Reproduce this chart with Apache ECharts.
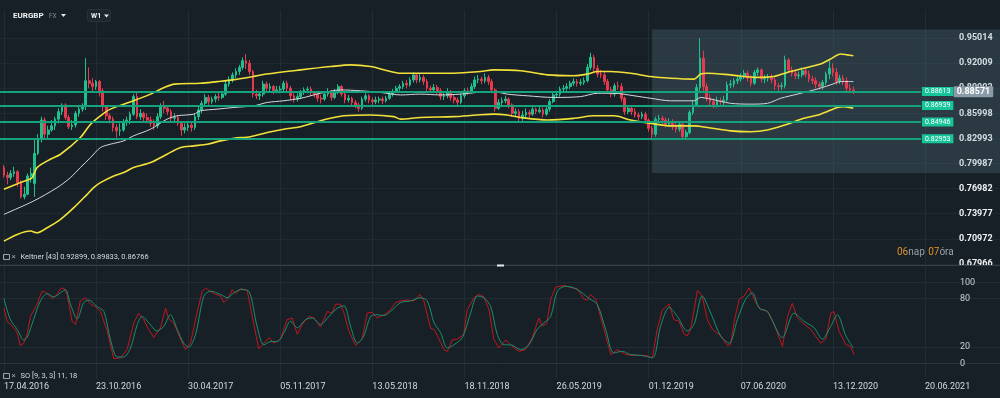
<!DOCTYPE html>
<html>
<head>
<meta charset="utf-8">
<title>EURGBP W1</title>
<script src="https://cdn.jsdelivr.net/npm/echarts@6.0.0/dist/echarts.min.js"></script>
<style>
html, body { margin: 0; padding: 0; background: #182027; }
#main { width: 1000px; height: 398px; }
</style>
</head>
<body>
<div id="main"></div>
<script>
// weekly candles, index = weeks since 17.04.2016 : [open, close, low, high]
var candles = [
	[0.7950,0.7860,0.7830,0.7980],[0.7860,0.7830,0.7750,0.7900],[0.7830,0.7880,0.7800,0.7920],[0.7880,0.7900,0.7840,0.7960],[0.7900,0.7770,0.7720,0.7920],
	[0.7770,0.7600,0.7580,0.7800],[0.7600,0.7630,0.7570,0.7720],[0.7630,0.7850,0.7620,0.7880],[0.7850,0.7880,0.7770,0.7950],[0.7760,0.8120,0.7600,0.8290],
	[0.8120,0.8290,0.8100,0.8350],[0.8290,0.8520,0.8250,0.8560],[0.8520,0.8350,0.8300,0.8550],[0.8350,0.8400,0.8300,0.8450],[0.8400,0.8450,0.8380,0.8520],
	[0.8450,0.8530,0.8400,0.8560],[0.8530,0.8620,0.8480,0.8660],[0.8620,0.8700,0.8580,0.8720],[0.8700,0.8550,0.8520,0.8720],[0.8550,0.8440,0.8410,0.8580],
	[0.8440,0.8460,0.8400,0.8520],[0.8460,0.8600,0.8430,0.8630],[0.8600,0.8650,0.8560,0.8700],[0.8650,0.8690,0.8620,0.8720],[0.8690,0.8990,0.8640,0.9260],
	[0.8990,0.8960,0.8900,0.9150],[0.8960,0.8920,0.8860,0.9020],[0.8920,0.8980,0.8880,0.9000],[0.8980,0.8870,0.8800,0.9000],[0.8870,0.8680,0.8620,0.8900],
	[0.8680,0.8570,0.8520,0.8700],[0.8570,0.8530,0.8480,0.8600],[0.8530,0.8430,0.8380,0.8560],[0.8430,0.8390,0.8310,0.8470],[0.8390,0.8400,0.8330,0.8480],
	[0.8400,0.8500,0.8380,0.8530],[0.8500,0.8520,0.8450,0.8560],[0.8520,0.8590,0.8470,0.8620],[0.8590,0.8800,0.8570,0.8830],[0.8800,0.8560,0.8530,0.8850],
	[0.8560,0.8600,0.8520,0.8650],[0.8600,0.8550,0.8500,0.8620],[0.8550,0.8520,0.8480,0.8600],[0.8520,0.8480,0.8440,0.8560],[0.8480,0.8450,0.8400,0.8530],
	[0.8450,0.8560,0.8420,0.8600],[0.8560,0.8680,0.8530,0.8720],[0.8680,0.8660,0.8600,0.8750],[0.8660,0.8620,0.8580,0.8700],[0.8620,0.8540,0.8500,0.8650],
	[0.8540,0.8550,0.8500,0.8600],[0.8550,0.8480,0.8450,0.8580],[0.8480,0.8400,0.8330,0.8500],[0.8400,0.8430,0.8360,0.8480],[0.8430,0.8460,0.8390,0.8500],
	[0.8460,0.8430,0.8380,0.8500],[0.8430,0.8560,0.8400,0.8600],[0.8560,0.8640,0.8520,0.8680],[0.8640,0.8720,0.8600,0.8750],[0.8720,0.8790,0.8690,0.8830],
	[0.8790,0.8740,0.8700,0.8820],[0.8740,0.8770,0.8710,0.8800],[0.8770,0.8800,0.8730,0.8830],[0.8800,0.8790,0.8750,0.8850],[0.8790,0.8830,0.8770,0.8870],
	[0.8830,0.8950,0.8810,0.8990],[0.8950,0.9000,0.8920,0.9040],[0.9000,0.9060,0.8970,0.9090],[0.9060,0.9100,0.9020,0.9140],[0.9100,0.9150,0.9060,0.9180],
	[0.9150,0.9230,0.9120,0.9270],[0.9230,0.9200,0.9130,0.9310],[0.9200,0.9100,0.9060,0.9240],[0.9100,0.8830,0.8790,0.9120],[0.8830,0.8810,0.8770,0.8880],
	[0.8810,0.8830,0.8760,0.8860],[0.8830,0.8950,0.8800,0.8990],[0.8950,0.8900,0.8860,0.8980],[0.8900,0.8920,0.8860,0.8960],[0.8920,0.8870,0.8830,0.8940],
	[0.8870,0.8880,0.8840,0.8930],[0.8880,0.8890,0.8840,0.8930],[0.8890,0.8960,0.8860,0.8990],[0.8960,0.8900,0.8860,0.8990],[0.8900,0.8810,0.8760,0.8930],
	[0.8810,0.8770,0.8730,0.8840],[0.8770,0.8800,0.8740,0.8840],[0.8800,0.8850,0.8770,0.8880],[0.8850,0.8880,0.8820,0.8910],[0.8880,0.8890,0.8840,0.8920],
	[0.8890,0.8860,0.8810,0.8920],[0.8860,0.8830,0.8790,0.8870],[0.8830,0.8780,0.8740,0.8850],[0.8780,0.8770,0.8720,0.8820],[0.8770,0.8830,0.8750,0.8860],
	[0.8830,0.8860,0.8800,0.8900],[0.8860,0.8790,0.8750,0.8880],[0.8790,0.8860,0.8770,0.8890],[0.8860,0.8920,0.8830,0.8950],[0.8920,0.8830,0.8800,0.8940],
	[0.8830,0.8760,0.8720,0.8850],[0.8760,0.8780,0.8730,0.8820],[0.8780,0.8730,0.8690,0.8800],[0.8730,0.8700,0.8660,0.8760],[0.8700,0.8660,0.8620,0.8730],
	[0.8660,0.8770,0.8640,0.8800],[0.8770,0.8810,0.8740,0.8840],[0.8810,0.8760,0.8720,0.8830],[0.8760,0.8740,0.8700,0.8790],[0.8740,0.8760,0.8710,0.8800],
	[0.8760,0.8770,0.8720,0.8800],[0.8770,0.8750,0.8710,0.8800],[0.8750,0.8780,0.8730,0.8810],[0.8780,0.8830,0.8760,0.8860],[0.8830,0.8860,0.8800,0.8890],
	[0.8860,0.8900,0.8840,0.8930],[0.8900,0.8920,0.8870,0.8950],[0.8920,0.8960,0.8890,0.8990],[0.8960,0.8940,0.8900,0.9000],[0.8940,0.9000,0.8920,0.9030],
	[0.9000,0.9060,0.8970,0.9090],[0.9060,0.9000,0.8960,0.9080],[0.9000,0.9030,0.8970,0.9070],[0.9030,0.8980,0.8940,0.9060],[0.8980,0.8900,0.8860,0.9010],
	[0.8900,0.8880,0.8840,0.8930],[0.8880,0.8910,0.8850,0.8950],[0.8910,0.8870,0.8830,0.8940],[0.8870,0.8800,0.8760,0.8900],[0.8800,0.8810,0.8760,0.8850],
	[0.8810,0.8860,0.8780,0.8900],[0.8860,0.8790,0.8750,0.8880],[0.8790,0.8760,0.8720,0.8820],[0.8760,0.8730,0.8700,0.8790],[0.8730,0.8810,0.8710,0.8840],
	[0.8810,0.8870,0.8780,0.8900],[0.8870,0.8860,0.8820,0.8910],[0.8860,0.8920,0.8840,0.8960],[0.8920,0.9000,0.8890,0.9040],[0.9000,0.9010,0.8960,0.9060],
	[0.9010,0.8990,0.8950,0.9040],[0.8990,0.9030,0.8960,0.9080],[0.9030,0.8980,0.8940,0.9060],[0.8980,0.8880,0.8840,0.9010],[0.8880,0.8660,0.8620,0.8900],
	[0.8660,0.8730,0.8640,0.8770],[0.8730,0.8750,0.8700,0.8790],[0.8750,0.8770,0.8720,0.8810],[0.8770,0.8700,0.8660,0.8790],[0.8700,0.8600,0.8560,0.8720],
	[0.8600,0.8620,0.8560,0.8660],[0.8620,0.8540,0.8500,0.8650],[0.8540,0.8580,0.8510,0.8630],[0.8580,0.8610,0.8540,0.8660],[0.8610,0.8590,0.8550,0.8640],
	[0.8590,0.8650,0.8570,0.8680],[0.8650,0.8620,0.8590,0.8670],[0.8620,0.8640,0.8600,0.8680],[0.8640,0.8590,0.8550,0.8670],[0.8590,0.8650,0.8570,0.8690],
	[0.8650,0.8740,0.8620,0.8770],[0.8740,0.8820,0.8720,0.8850],[0.8820,0.8830,0.8790,0.8870],[0.8830,0.8890,0.8800,0.8920],[0.8890,0.8900,0.8860,0.8940],
	[0.8900,0.8920,0.8870,0.8960],[0.8920,0.8960,0.8890,0.8990],[0.8960,0.8980,0.8930,0.9020],[0.8980,0.8960,0.8920,0.9010],[0.8960,0.8970,0.8930,0.9010],
	[0.8970,0.8990,0.8940,0.9030],[0.8990,0.9150,0.8970,0.9190],[0.9150,0.9270,0.9120,0.9325],[0.9270,0.9140,0.9100,0.9300],[0.9140,0.9070,0.9030,0.9180],
	[0.9070,0.9060,0.9020,0.9120],[0.9060,0.8980,0.8940,0.9100],[0.8980,0.8880,0.8840,0.9010],[0.8880,0.8830,0.8790,0.8920],[0.8830,0.8930,0.8800,0.8960],
	[0.8930,0.8920,0.8880,0.8980],[0.8920,0.8780,0.8740,0.8960],[0.8780,0.8620,0.8580,0.8800],[0.8620,0.8660,0.8590,0.8700],[0.8660,0.8620,0.8580,0.8690],
	[0.8620,0.8580,0.8550,0.8660],[0.8580,0.8560,0.8520,0.8610],[0.8560,0.8590,0.8530,0.8620],[0.8590,0.8520,0.8490,0.8620],[0.8520,0.8420,0.8380,0.8540],
	[0.8420,0.8350,0.8277,0.8450],[0.8350,0.8530,0.8320,0.8560],[0.8530,0.8540,0.8490,0.8580],[0.8540,0.8520,0.8470,0.8570],[0.8520,0.8470,0.8430,0.8550],
	[0.8470,0.8500,0.8440,0.8540],[0.8500,0.8440,0.8400,0.8530],[0.8440,0.8410,0.8370,0.8480],[0.8410,0.8470,0.8380,0.8500],[0.8470,0.8320,0.8280,0.8490],
	[0.8320,0.8370,0.8290,0.8400],[0.8370,0.8610,0.8350,0.8640],[0.8610,0.8700,0.8580,0.8750],[0.8700,0.8910,0.8680,0.8950],[0.8910,0.9260,0.8870,0.9500],
	[0.9260,0.8920,0.8860,0.9350],[0.8920,0.8790,0.8740,0.8960],[0.8790,0.8740,0.8690,0.8830],[0.8740,0.8700,0.8660,0.8780],[0.8700,0.8750,0.8670,0.8800],
	[0.8750,0.8740,0.8700,0.8790],[0.8740,0.8760,0.8700,0.8810],[0.8760,0.8940,0.8740,0.8980],[0.8940,0.8950,0.8900,0.9000],[0.8950,0.8990,0.8910,0.9020],
	[0.8990,0.9010,0.8950,0.9050],[0.9010,0.9040,0.8980,0.9080],[0.9040,0.9080,0.9010,0.9120],[0.9080,0.9020,0.8980,0.9110],[0.9020,0.8960,0.8920,0.9060],
	[0.8960,0.9090,0.8940,0.9120],[0.9090,0.9120,0.9050,0.9150],[0.9120,0.9010,0.8970,0.9140],[0.9010,0.9020,0.8960,0.9060],[0.9020,0.9030,0.8980,0.9070],
	[0.9030,0.9000,0.8960,0.9070],[0.9000,0.8930,0.8880,0.9030],[0.8930,0.8920,0.8870,0.8960],[0.8920,0.8930,0.8880,0.8970],[0.8930,0.9240,0.8900,0.9290],
	[0.9240,0.9120,0.9080,0.9260],[0.9120,0.9080,0.9040,0.9160],[0.9080,0.9050,0.9010,0.9120],[0.9050,0.9060,0.9010,0.9100],[0.9060,0.9110,0.9030,0.9150],
	[0.9110,0.9070,0.9030,0.9140],[0.9070,0.9010,0.8970,0.9110],[0.9010,0.8990,0.8950,0.9050],[0.8990,0.8950,0.8900,0.9030],[0.8950,0.8920,0.8880,0.8980],
	[0.8920,0.8970,0.8880,0.9000],[0.8970,0.9070,0.8940,0.9100],[0.9070,0.9140,0.9010,0.9230],[0.9140,0.9090,0.9040,0.9200],[0.9090,0.8980,0.8940,0.9140],
	[0.8980,0.9020,0.8950,0.9060],[0.9020,0.8990,0.8940,0.9060],[0.8990,0.8900,0.8860,0.9030],[0.8900,0.8880,0.8840,0.8950],[0.8880,0.8857,0.8830,0.8920]
];

// Keltner channel [43], read as [week, value]
var keltnerUpper = [[0,0.769],[4.8,0.777],[8.3,0.783],[9.7,0.795],[13.6,0.805],[16.6,0.811],[22.4,0.831],[25.4,0.847],[28.3,0.857],[31.2,0.865],[38,0.875],[43,0.883],[47,0.891],[50,0.895],[57.6,0.896],[62.5,0.898],[67,0.900],[73,0.904],[77,0.907],[87,0.912],[95.8,0.916],[101.6,0.918],[107.5,0.916],[112.4,0.911],[116.3,0.908],[122.1,0.908],[131.9,0.908],[139.7,0.910],[143.6,0.912],[151.5,0.911],[159.3,0.906],[167.1,0.905],[171,0.907],[174,0.910],[177.8,0.910],[183.7,0.908],[189.6,0.904],[195.4,0.902],[202.3,0.901],[204.2,0.907],[206.2,0.908],[213,0.906],[220.8,0.903],[225.7,0.904],[229.6,0.909],[234.5,0.914],[239.4,0.919],[242.3,0.925],[245.3,0.931],[247.2,0.930],[249,0.929]];
var keltnerMid = [[0,0.739],[8.7,0.755],[15.6,0.771],[19.5,0.783],[22.4,0.795],[25.4,0.807],[28.3,0.819],[31.2,0.823],[35.1,0.827],[38,0.833],[43,0.841],[47.8,0.853],[50.8,0.857],[55.7,0.859],[57.6,0.863],[62.5,0.865],[67.4,0.867],[73.3,0.869],[77.2,0.873],[82,0.875],[87,0.878],[92.8,0.884],[98.7,0.888],[104.5,0.887],[110.4,0.885],[116.3,0.882],[122.1,0.883],[128,0.882],[133.9,0.883],[138.7,0.885],[143.6,0.886],[147.5,0.883],[153.4,0.881],[161.2,0.879],[169,0.880],[174,0.884],[178.8,0.884],[184.7,0.881],[189.6,0.878],[195.4,0.875],[202.3,0.875],[204.2,0.879],[207.2,0.877],[213,0.872],[218.9,0.871],[223.8,0.872],[227.7,0.878],[232.6,0.883],[237.5,0.888],[242.3,0.894],[245.3,0.898],[249,0.898]];
var keltnerLower = [[0,0.707],[3.9,0.715],[7.8,0.719],[9.7,0.717],[12.7,0.723],[16.6,0.733],[20.5,0.747],[24.4,0.763],[26.3,0.771],[28.3,0.777],[32.2,0.785],[35.1,0.789],[38,0.795],[43,0.801],[47.8,0.811],[51.8,0.819],[55.7,0.821],[59.6,0.823],[63.5,0.827],[67.4,0.830],[72.3,0.832],[77.2,0.837],[82,0.841],[87,0.844],[92.8,0.851],[95.7,0.854],[99.6,0.857],[107.5,0.858],[114.3,0.856],[116.3,0.853],[122.1,0.855],[131.9,0.856],[138.7,0.858],[143.6,0.859],[147.5,0.858],[151.5,0.855],[159.3,0.852],[167.1,0.854],[173,0.857],[178.8,0.857],[183.7,0.852],[189.6,0.848],[195.4,0.845],[202.3,0.845],[206.2,0.843],[213,0.839],[218.9,0.838],[223.8,0.840],[229.6,0.847],[234.5,0.854],[239.4,0.859],[244.3,0.867],[246.3,0.868],[249,0.866]];

// Stochastic oscillator [9, 3, 3], read as [week, value]
var soK = [[0,68],[0.9,52],[2.9,44],[3.9,38],[4.8,22],[5.8,25],[6.8,36],[7.8,58],[9.7,73],[11.2,89],[12.2,88],[14.1,80],[15.6,85],[16.6,92],[17.5,93],[18.5,85],[20,52],[21,48],[22.4,77],[23.9,81],[25.4,73],[26.8,70],[28.3,64],[30.3,40],[32.2,6],[34.2,7],[36.1,17],[38.1,50],[39.5,62],[41,54],[42,45],[43.9,32],[45.9,44],[47.4,68],[48.3,55],[49.8,50],[51.8,30],[53.2,17],[54.7,25],[56.6,62],[58.1,89],[59.1,93],[61.5,86],[63.5,83],[64.5,75],[65.9,81],[66.9,91],[67.9,86],[69.4,92],[71.3,90],[72.8,58],[74.7,18],[76.2,25],[77.7,32],[79.1,25],[81.1,30],[83,54],[84.5,56],[86,36],[87.4,48],[89.4,58],[90.9,56],[92.8,45],[94.8,64],[96.2,62],[97.2,73],[98.7,73],[99.7,62],[101.1,40],[103.1,22],[105,30],[106.5,62],[108,63],[109.4,56],[111.4,60],[113.3,66],[114.8,75],[116.3,77],[118.2,78],[120.2,77],[121.9,85],[123.1,77],[125.1,43],[126.1,42],[128,26],[129,17],[130,15],[131.4,29],[132.9,30],[134.8,36],[135.8,66],[137.8,81],[139.2,85],[140.7,82],[142.2,66],[143.6,30],[145.1,19],[147.1,29],[149,21],[151,15],[152.9,17],[154.9,32],[156.8,56],[157.8,46],[159.1,49],[160.3,79],[161.7,94],[164.2,96],[166.6,93],[168.1,92],[170,79],[171,78],[172,85],[173.5,79],[175.9,42],[177.9,11],[179.8,17],[182.3,11],[184.2,10],[186.2,10],[188.1,10],[190.1,7],[191.5,42],[193,66],[195,73],[196.4,54],[197.9,52],[199.4,36],[200.3,34],[201.3,42],[203.3,90],[204.7,83],[206.2,54],[207.7,42],[210.1,34],[212.1,22],[213,23],[214,50],[215.5,79],[217,83],[218.4,93],[220.4,75],[221.8,67],[223.8,64],[225.8,48],[228.2,21],[229.7,58],[231.1,74],[232.6,56],[234.1,50],[236.5,42],[239.4,25],[240.9,30],[242.4,62],[243.3,64],[244.8,40],[246.8,23],[248.2,21],[249.2,11]];
var soD = [[0,80],[1.9,54],[3.9,42],[5.8,29],[6.8,32],[8.7,54],[10.7,77],[12.7,86],[14.6,82],[16.6,87],[18,91],[19.5,73],[21.5,55],[23.4,75],[24.9,78],[27.3,70],[29.3,64],[31.2,30],[33.2,8],[35.1,8],[37.1,19],[39.1,48],[40.5,58],[42.5,50],[44.9,40],[46.9,46],[48.8,60],[50.8,42],[52.7,25],[54.2,20],[56.2,36],[58.6,83],[60.6,89],[63.5,85],[65.4,81],[67.4,87],[69.4,91],[71.8,89],[74.2,46],[76.2,23],[78.2,27],[80.1,27],[82.1,38],[84,52],[86,44],[88.4,54],[90.4,56],[92.8,48],[95.3,58],[97.7,68],[99.7,71],[101.6,46],[103.6,25],[105.5,34],[107.5,58],[109.4,60],[111.4,59],[113.3,64],[116.3,75],[119.2,77],[122.1,81],[124.1,77],[126.1,50],[128,38],[130,19],[131.9,23],[134.4,32],[136.8,62],[138.8,83],[140.7,81],[142.7,70],[144.6,36],[146.6,23],[148.5,23],[151.5,17],[153.9,23],[156.3,42],[158.3,50],[160.3,58],[162.2,89],[164.7,95],[167.1,93],[169.5,87],[171.5,80],[173.9,73],[176.4,42],[178.8,13],[181.3,15],[183.7,11],[186.7,10],[190.1,7],[192.5,46],[195,69],[197.4,58],[200.3,40],[202.3,48],[204.7,83],[207.2,62],[210.1,34],[212.6,25],[215,54],[217.4,79],[219.4,87],[221.4,68],[223.8,64],[228.2,32],[231.6,62],[234.5,52],[237.5,44],[239.9,30],[242.4,46],[244.3,60],[246.8,34],[249,19]];

// horizontal levels and last price
var levels = [0.88613, 0.86939, 0.84946, 0.82953];
var lastPrice = 0.88571;

// axis ticks and labels
var dateTicks = [0, 27, 54, 81, 108, 135, 162, 189, 216, 243, 270];
var dateLabels = ['17.04.2016', '23.10.2016', '30.04.2017', '05.11.2017', '13.05.2018', '18.11.2018',
	'26.05.2019', '01.12.2019', '07.06.2020', '13.12.2020', '20.06.2021'];
var priceTicks = [0.67966, 0.70972, 0.73977, 0.76982, 0.79987, 0.82993, 0.85998, 0.89003, 0.92009, 0.95014];
var soTicks = [0, 20, 80, 100];

// highlighted box (week range / price range)
var boxWeeks = [190, 292];
var boxPrices = [0.78853, 0.96038];

drawChart();

function drawChart() {
	var chart = echarts.init(document.getElementById('main'));

	var xMin = -1.143, xMax = 291.98;
	var gridColor = '#222c34';
	var font = 'Roboto';

	var candleData = candles.map(function(c, i) {
		return [i, c[0], c[1], c[2], c[3]];
	});

	var levelLines = levels.map(function(v) {
		return [{ name: v.toFixed(5), coord: [xMin, v] }, { coord: [268.8, v] }];
	});

	function xAxisFor(grid, showLabels) {
		return {
			type: 'value', gridIndex: grid, min: xMin, max: xMax,
			axisLine: { show: showLabels, lineStyle: { color: '#2a343c' } },
			axisTick: { show: false, customValues: dateTicks },
			splitLine: { show: true, lineStyle: { color: gridColor, width: 1 } },
			axisLabel: {
				show: showLabels, customValues: dateTicks, align: 'left', margin: 3,
				color: '#d3d9de', fontSize: 9, fontFamily: font,
				formatter: function(v) { return dateLabels[Math.round(v / 27)]; }
			}
		};
	}

	var option = {
		animation: false,
		backgroundColor: '#182027',
		grid: [
			{ left: 0, right: 0, top: 10, height: 255 },
			{ left: 0, right: 0, top: 267, height: 112 }
		],
		xAxis: [xAxisFor(0, false), xAxisFor(1, true)],
		yAxis: [
			{
				type: 'value', gridIndex: 0, position: 'right', min: 0.67835, max: 0.98373,
				axisLine: { show: false },
				axisTick: { show: false, customValues: priceTicks },
				splitLine: { show: true, lineStyle: { color: '#1f2930' } },
				axisLabel: {
					customValues: priceTicks, inside: true, align: 'left', margin: 41,
					color: '#eef2f5', fontWeight: 'bold', fontSize: 9, fontFamily: font,
					formatter: function(v) { return v.toFixed(5); }
				}
			},
			{
				type: 'value', gridIndex: 1, position: 'right', min: -19.1, max: 118.8,
				axisLine: { show: false },
				axisTick: { show: false, customValues: soTicks },
				splitLine: { show: true, lineStyle: { color: gridColor } },
				axisLabel: {
					customValues: soTicks, inside: true, align: 'left', margin: 40,
					color: '#c9d0d5', fontSize: 9, fontFamily: font
				}
			}
		],
		series: [
			{
				name: 'EURGBP', type: 'candlestick', xAxisIndex: 0, yAxisIndex: 0,
				data: candleData, barWidth: 2.2,
				itemStyle: { color: '#20c08e', color0: '#e63a4f', borderColor: '#20c08e', borderColor0: '#e63a4f', borderWidth: 1 },
				markArea: {
					silent: true,
					itemStyle: { color: 'rgba(110,145,165,0.22)' },
					data: [[{ coord: [boxWeeks[0], boxPrices[1]] }, { coord: [boxWeeks[1], boxPrices[0]] }]]
				},
				markLine: {
					silent: true, symbol: ['none', 'none'],
					lineStyle: { color: '#14a37d', width: 2, type: 'solid' },
					label: {
						show: true, position: 'end', distance: 1, formatter: '{b}',
						backgroundColor: '#17c59a', color: '#ffffff', fontSize: 7, fontFamily: font,
						padding: [1, 3, 1, 3]
					},
					data: levelLines
				}
			},
			{
				name: 'Keltner upper', type: 'line', xAxisIndex: 0, yAxisIndex: 0,
				data: keltnerUpper, showSymbol: false, smooth: 0.3,
				lineStyle: { color: '#f2e13a', width: 1.6 }
			},
			{
				name: 'Keltner middle', type: 'line', xAxisIndex: 0, yAxisIndex: 0,
				data: keltnerMid, showSymbol: false, smooth: 0.3,
				lineStyle: { color: '#d6d9dc', width: 1 },
				markLine: {
					silent: true, symbol: ['none', 'none'],
					lineStyle: { color: 'rgba(0,0,0,0)', width: 1 },
					label: {
						show: true, position: 'end', distance: 0, formatter: '{b}',
						backgroundColor: '#8b9ba7', color: '#ffffff', fontWeight: 'bold',
						fontSize: 9, fontFamily: font, padding: [1, 3, 1, 3], borderRadius: 1
					},
					data: [[{ name: lastPrice.toFixed(5), coord: [278.2, lastPrice] }, { coord: [278.4, lastPrice] }]]
				}
			},
			{
				name: 'Keltner lower', type: 'line', xAxisIndex: 0, yAxisIndex: 0,
				data: keltnerLower, showSymbol: false, smooth: 0.3,
				lineStyle: { color: '#f2e13a', width: 1.6 }
			},
			{
				name: 'SO %K', type: 'line', xAxisIndex: 1, yAxisIndex: 1,
				data: soK, showSymbol: false,
				lineStyle: { color: '#c2151d', width: 1 }
			},
			{
				name: 'SO %D', type: 'line', xAxisIndex: 1, yAxisIndex: 1,
				data: soD, showSymbol: false, smooth: 0.3,
				lineStyle: { color: '#188f6d', width: 1 }
			}
		],
		graphic: [
			// header
			{ type: 'text', x: 13, y: 16, z: 100, style: { text: 'EURGBP', fill: '#eef2f4', font: 'bold 8px Roboto', verticalAlign: 'middle' } },
			{ type: 'text', x: 49, y: 16.5, z: 100, style: { text: 'FX', fill: '#7e8a93', font: '6.5px Roboto', verticalAlign: 'middle' } },
			{ type: 'polygon', z: 100, shape: { points: [[61, 14], [66, 14], [63.5, 17]] }, style: { fill: '#e6eaed' } },
			{ type: 'rect', z: 99, shape: { x: 87.5, y: 9.5, width: 23, height: 12, r: 2 }, style: { fill: '#1d262d', stroke: '#27323a' } },
			{ type: 'text', x: 91, y: 16, z: 100, style: { text: 'W1', fill: '#eef2f4', font: 'bold 7px Roboto', verticalAlign: 'middle' } },
			{ type: 'polygon', z: 100, shape: { points: [[104, 14.5], [109, 14.5], [106.5, 17.5]] }, style: { fill: '#e6eaed' } },
			// pane separator
			{ type: 'rect', z: 100, shape: { x: 0, y: 265, width: 1000, height: 1 }, style: { fill: '#34404a' } },
			{ type: 'rect', z: 101, shape: { x: 497, y: 264.5, width: 7, height: 2 }, style: { fill: '#e8ecef' } },
			// Keltner legend
			{ type: 'rect', z: 100, shape: { x: 3.5, y: 254.5, width: 6, height: 5 }, style: { fill: 'none', stroke: '#9aa4ab', lineWidth: 1 } },
			{ type: 'text', x: 11.5, y: 257, z: 100, style: { text: '\u00d7', fill: '#9aa4ab', font: '8px Roboto', verticalAlign: 'middle' } },
			{ type: 'text', x: 20.5, y: 257, z: 100, style: { text: 'Keltner [43] 0.92899, 0.89833, 0.86766', fill: '#d5dbe0', font: '7.5px Roboto', verticalAlign: 'middle' } },
			// SO legend
			{ type: 'rect', z: 100, shape: { x: 3.5, y: 373.5, width: 6, height: 5 }, style: { fill: 'none', stroke: '#9aa4ab', lineWidth: 1 } },
			{ type: 'text', x: 11.5, y: 376, z: 100, style: { text: '\u00d7', fill: '#9aa4ab', font: '8px Roboto', verticalAlign: 'middle' } },
			{ type: 'text', x: 20.5, y: 376, z: 100, style: { text: 'SO [9, 3, 3] 11, 18', fill: '#d5dbe0', font: '7.5px Roboto', verticalAlign: 'middle' } },
			// countdown
			{
				type: 'text', x: 897, y: 252, z: 100,
				style: {
					text: '{o|06}{g|nap} {o|07}{g|óra}', verticalAlign: 'middle',
					rich: {
						o: { fill: '#e0912b', fontSize: 10, fontFamily: 'Roboto' },
						g: { fill: '#95a0a8', fontSize: 10, fontFamily: 'Roboto' }
					}
				}
			}
		]
	};

	chart.setOption(option);
}
</script>
</body>
</html>
